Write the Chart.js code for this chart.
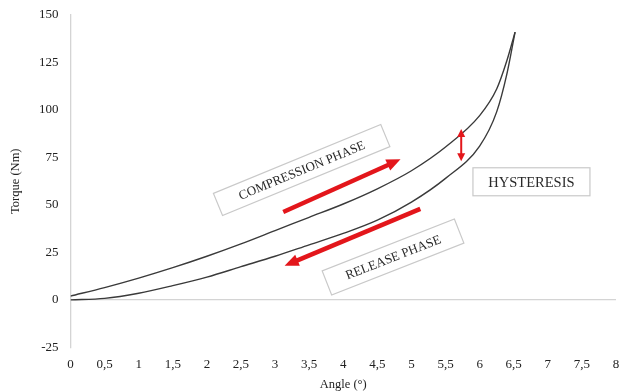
<!DOCTYPE html>
<html>
<head>
<meta charset="utf-8">
<script src="https://cdn.jsdelivr.net/npm/chart.js@4.4.0/dist/chart.umd.min.js"></script>
<style>
html,body{margin:0;padding:0;background:#fff;}
#wrap{width:621px;height:392px;position:relative;}
</style>
</head>
<body>
<div id="wrap"><canvas id="torqueChart" width="621" height="392"></canvas></div>
<script>
// angle (deg) and torque (Nm)
const angleUp=[0,0.5,1,1.5,2,2.5,3,3.5,4,4.5,5,5.5,6,6.25,6.4,6.52];
const torqueUp=[2,6.5,11.5,17,23,29.5,36.5,43.5,50.5,58.5,68,80.5,97,111,126,141];
const angleDown=[0,0.5,1,1.5,2,2.5,3,3.5,4,4.5,5,5.5,6,6.25,6.4,6.52];
const torqueDown=[0,0.8,3.5,7.5,12,17.5,23,29,35,42,51.5,64,81,99,119,141];

// annotation anchors in data units
const noteText=["COMPRESSION PHASE","RELEASE PHASE","HYSTERESIS"];
const noteX=[3.39,4.73,6.76];
const noteY=[68.4,22.6,62.2];
const arrowStart=[[3.12,46.3],[5.13,47.9]];
const arrowEnd=[[4.84,74],[3.14,18]];
const gapArrow=[[5.73,90],[5.73,73]];

function toPts(xs,ys){
let out=[];
for(let i=0;i<xs.length;i++){out.push({x:xs[i],y:ys[i]});}
return out;
}

const RED="#e3161b";

function head(ctx,x1,y1,x2,y2,len,wid){
let a=Math.atan2(y2-y1,x2-x1);
ctx.save();
ctx.translate(x2,y2);
ctx.rotate(a);
ctx.beginPath();
ctx.moveTo(0,0);
ctx.lineTo(-len,wid/2);
ctx.lineTo(-len,-wid/2);
ctx.closePath();
ctx.fill();
ctx.restore();
}

const notes={
id:"notes",
afterDatasetsDraw(chart){
const ctx=chart.ctx;
const xs=chart.scales.x, ys=chart.scales.y;
ctx.save();

// big red arrows
ctx.strokeStyle=RED;
ctx.fillStyle=RED;
for(let i=0;i<arrowStart.length;i++){
let x1=xs.getPixelForValue(arrowStart[i][0]), y1=ys.getPixelForValue(arrowStart[i][1]);
let x2=xs.getPixelForValue(arrowEnd[i][0]), y2=ys.getPixelForValue(arrowEnd[i][1]);
let a=Math.atan2(y2-y1,x2-x1);
ctx.lineWidth=4.5;
ctx.beginPath();
ctx.moveTo(x1,y1);
ctx.lineTo(x2-Math.cos(a)*10,y2-Math.sin(a)*10);
ctx.stroke();
head(ctx,x1,y1,x2,y2,14,12);
}

// hysteresis double arrow
let hx=xs.getPixelForValue(gapArrow[0][0]);
let hy1=ys.getPixelForValue(gapArrow[0][1]);
let hy2=ys.getPixelForValue(gapArrow[1][1]);
ctx.lineWidth=2;
ctx.beginPath();
ctx.moveTo(hx,hy1+6);
ctx.lineTo(hx,hy2-6);
ctx.stroke();
head(ctx,hx,hy2,hx,hy1,8,8);
head(ctx,hx,hy1,hx,hy2,8,8);

// text boxes
const rot=[-22.4,-21.4,0];
const bw=[181,142,117];
const bh=[24,26,28];
const fs=[13,13,14.5];
for(let i=0;i<noteText.length;i++){
let cx=xs.getPixelForValue(noteX[i]), cy=ys.getPixelForValue(noteY[i]);
ctx.save();
ctx.translate(cx,cy);
ctx.rotate(rot[i]*Math.PI/180);
ctx.fillStyle="#fff";
ctx.fillRect(-bw[i]/2,-bh[i]/2,bw[i],bh[i]);
ctx.strokeStyle="#c9c9c9";
ctx.lineWidth=1.2;
ctx.strokeRect(-bw[i]/2,-bh[i]/2,bw[i],bh[i]);
ctx.fillStyle="#2a2a2a";
ctx.font=fs[i]+"px 'Liberation Serif'";
ctx.textAlign="center";
ctx.textBaseline="middle";
ctx.fillText(noteText[i],0,1);
ctx.restore();
}
ctx.restore();
}
};

const serif="'Liberation Serif', 'Times New Roman', serif";

new Chart(document.getElementById("torqueChart"),{
type:"scatter",
data:{
datasets:[
{label:"Compression",data:toPts(angleUp,torqueUp),showLine:true,borderColor:"#3a3a3a",borderWidth:1.4,pointRadius:0,cubicInterpolationMode:"monotone",fill:false},
{label:"Release",data:toPts(angleDown,torqueDown),showLine:true,borderColor:"#3a3a3a",borderWidth:1.4,pointRadius:0,cubicInterpolationMode:"monotone",fill:false}
]
},
options:{
responsive:false,
animation:false,
layout:{padding:{top:15,right:5,left:8,bottom:0}},
plugins:{legend:{display:false},tooltip:{enabled:false}},
scales:{
x:{
type:"linear",min:0,max:8,
afterFit:s=>{s.paddingLeft=0;s.paddingRight=0;},
grid:{display:false,drawTicks:false},
border:{display:false},
ticks:{stepSize:0.5,padding:9,color:"#222",font:{family:serif,size:13},maxRotation:0,
callback:v=>String(v).replace(".",",")},
title:{display:true,text:"Angle (°)",color:"#222",font:{family:serif,size:12.5},padding:{top:-4,bottom:0}}
},
y:{
min:-25,max:150,
afterFit:s=>{s.paddingTop=0;s.paddingBottom=0;},
grid:{drawTicks:false,color:ctx=>ctx.tick&&ctx.tick.value===0?"#d4d4d4":"rgba(0,0,0,0)",lineWidth:1.3},
border:{display:true,color:"#d4d4d4",width:1.3},
ticks:{stepSize:25,padding:12,color:"#222",font:{family:serif,size:13}},
title:{display:true,text:"Torque (Nm)",color:"#222",font:{family:serif,size:12.5},padding:{top:0,bottom:4}}
}
}
},
plugins:[notes]
});
</script>
</body>
</html>
